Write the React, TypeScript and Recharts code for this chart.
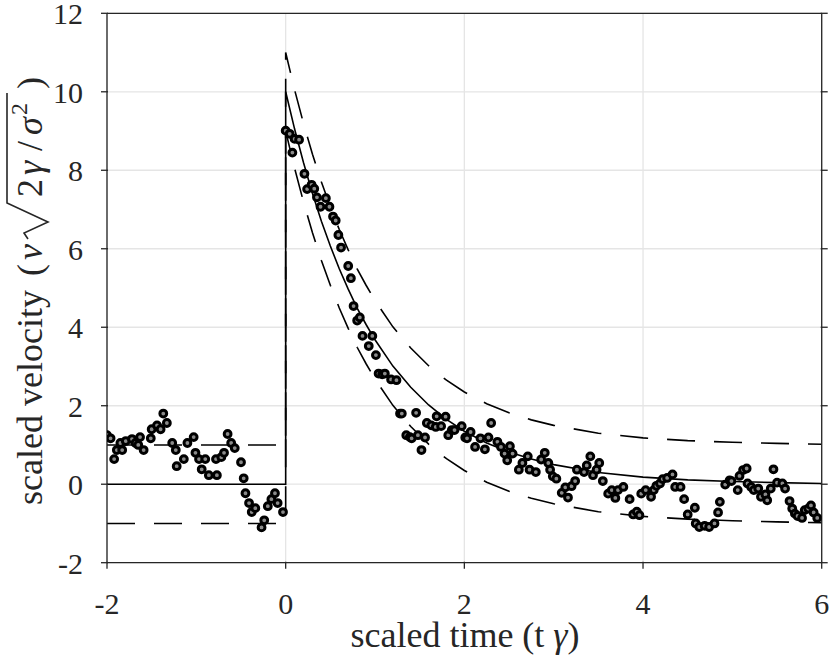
import React from 'react';
import {
  CartesianGrid,
  ComposedChart,
  Line,
  Scatter,
  XAxis,
  YAxis,
} from 'recharts';

const ink = '#262626';
const serif = '"Liberation Serif", "Times New Roman", serif';

const xTicks = [-2, 0, 2, 4, 6];
const yTicks = [-2, 0, 2, 4, 6, 8, 10, 12];

const beforeKick: [number, number][] = [
  [-2.0, 1.25], [-1.96, 1.17], [-1.92, 0.64], [-1.89, 0.87], [-1.85, 1.05],
  [-1.83, 0.87], [-1.79, 1.1], [-1.72, 1.15], [-1.68, 1.05], [-1.65, 1.0],
  [-1.63, 1.2], [-1.59, 0.87], [-1.51, 1.17], [-1.5, 1.4], [-1.44, 1.5],
  [-1.4, 1.4], [-1.37, 1.8], [-1.33, 1.56], [-1.27, 1.05], [-1.23, 0.87],
  [-1.22, 0.46], [-1.14, 0.64], [-1.1, 1.05], [-1.03, 1.2], [-1.01, 0.8],
  [-0.97, 0.64], [-0.94, 0.38], [-0.9, 0.64], [-0.86, 0.23], [-0.78, 0.64],
  [-0.77, 0.23], [-0.72, 0.69], [-0.69, 0.8], [-0.65, 1.28], [-0.61, 1.05],
  [-0.57, 0.92], [-0.5, 0.56], [-0.47, 0.15], [-0.45, -0.23], [-0.41, -0.48],
  [-0.38, -0.71], [-0.34, -0.61], [-0.27, -1.1], [-0.24, -0.92], [-0.2, -0.56],
  [-0.16, -0.38], [-0.12, -0.23], [-0.09, -0.48], [-0.03, -0.71],
];

const kickDecay: [number, number][] = [
  [0.0, 9.01], [0.045, 8.93], [0.075, 8.45], [0.1, 8.8], [0.15, 8.78],
  [0.21, 7.91], [0.24, 7.52], [0.29, 7.63], [0.32, 7.53], [0.35, 7.31],
  [0.39, 7.07], [0.45, 7.29], [0.49, 7.07], [0.53, 6.82], [0.56, 6.72],
  [0.59, 6.35], [0.62, 6.03], [0.7, 5.56], [0.73, 5.25], [0.76, 4.54],
  [0.8, 4.17], [0.83, 4.25], [0.86, 3.78], [0.93, 3.52], [0.97, 3.78],
  [1.01, 3.29], [1.04, 2.82], [1.08, 2.8], [1.11, 2.82], [1.18, 2.67],
  [1.24, 2.65], [1.28, 1.8], [1.3, 1.8], [1.35, 1.25], [1.39, 1.2],
  [1.41, 1.17], [1.46, 1.82], [1.48, 1.25], [1.52, 0.87], [1.56, 1.19],
  [1.58, 1.56], [1.63, 1.5], [1.68, 1.46], [1.69, 1.73], [1.74, 1.48],
  [1.79, 1.72], [1.82, 1.25], [1.86, 1.38], [1.89, 1.38], [1.97, 1.48],
];

const midDecay: [number, number][] = [
  [2.01, 1.19], [2.03, 1.17], [2.07, 1.33], [2.12, 0.95], [2.18, 1.17],
  [2.23, 0.89], [2.27, 1.19], [2.3, 1.56], [2.37, 1.08], [2.41, 0.95],
  [2.45, 0.78], [2.48, 0.61], [2.51, 0.97], [2.54, 0.78], [2.61, 0.37],
  [2.65, 0.54], [2.71, 0.71], [2.73, 0.37], [2.8, 0.31], [2.86, 0.63],
  [2.9, 0.8], [2.94, 0.54], [2.96, 0.37], [2.99, 0.2], [3.03, 0.14],
  [3.09, -0.22], [3.13, -0.08], [3.16, -0.34], [3.2, -0.05], [3.24, 0.08],
  [3.26, 0.37], [3.34, 0.31], [3.37, 0.48], [3.41, 0.71], [3.44, 0.23],
  [3.48, 0.37], [3.51, 0.54], [3.55, 0.08],
];

const tail: [number, number][] = [
  [3.61, -0.24], [3.65, -0.15], [3.69, -0.35], [3.72, -0.15], [3.78, -0.07],
  [3.85, -0.38], [3.89, -0.77], [3.93, -0.7], [3.96, -0.79], [3.98, -0.24],
  [4.03, -0.15], [4.09, -0.32], [4.12, -0.15], [4.15, -0.04], [4.19, 0.02],
  [4.22, 0.13], [4.27, 0.16], [4.33, 0.25], [4.36, -0.07], [4.42, -0.07],
  [4.46, -0.38], [4.5, -0.77], [4.58, -0.6], [4.59, -1.0], [4.63, -1.09],
  [4.69, -1.06], [4.74, -1.09], [4.8, -1.0], [4.84, -0.72], [4.86, -0.45],
  [4.92, -0.01], [4.97, 0.1], [4.99, 0.08], [5.06, -0.15], [5.08, 0.21],
  [5.12, 0.36], [5.16, 0.4], [5.17, 0.02], [5.21, -0.07], [5.24, -0.15],
  [5.29, -0.11], [5.32, -0.32], [5.37, -0.26], [5.39, -0.41], [5.43, -0.11],
  [5.46, 0.38], [5.5, 0.04], [5.56, 0.02], [5.59, -0.11], [5.64, -0.43],
  [5.67, -0.62], [5.7, -0.75], [5.73, -0.81], [5.78, -0.86], [5.81, -0.66],
  [5.85, -0.62], [5.88, -0.54], [5.91, -0.72], [5.95, -0.86],
];

// theory curves after the kick (t >= 0)
const curveTimes = [
  0, 0.1, 0.2, 0.3, 0.4, 0.5, 0.6, 0.7, 0.8, 0.9, 1.0, 1.2, 1.4, 1.6, 1.8,
  2.0, 2.25, 2.5, 2.75, 3.0, 3.5, 4.0, 4.5, 5.0, 5.5, 6.0,
];
const meanValues = [
  10, 9.05, 8.19, 7.41, 6.7, 6.07, 5.49, 4.97, 4.49, 4.07, 3.68, 3.01, 2.47,
  2.02, 1.65, 1.35, 1.05, 0.82, 0.64, 0.5, 0.3, 0.18, 0.11, 0.07, 0.04, 0.02,
];
const upperValues = [
  11, 10.05, 9.19, 8.41, 7.7, 7.07, 6.49, 5.97, 5.49, 5.07, 4.68, 4.01, 3.47,
  3.02, 2.65, 2.35, 2.05, 1.82, 1.64, 1.5, 1.3, 1.18, 1.11, 1.07, 1.04, 1.02,
];
const lowerValues = [
  9, 8.05, 7.19, 6.41, 5.7, 5.07, 4.49, 3.97, 3.49, 3.07, 2.68, 2.01, 1.47,
  1.02, 0.65, 0.35, 0.05, -0.18, -0.36, -0.5, -0.7, -0.82, -0.89, -0.93,
  -0.96, -0.98,
];
// levels before the kick (t < 0)
const meanBefore = 0;
const upperBefore = 1;
const lowerBefore = -1;

const buildCurve = (before: number, values: number[]) => [
  { x: -2, y: before },
  { x: 0, y: before },
  ...curveTimes.map((x, i) => ({ x, y: values[i] })),
];

const scatterData = [...beforeKick, ...kickDecay, ...midDecay, ...tail].map(
  ([x, y]) => ({ x, y })
);

const Marker = (props: any) => {
  const { cx, cy } = props;
  if (cx == null || cy == null) return null;
  return (
    <circle cx={cx} cy={cy} r={3.4} fill="#8a8a8a" stroke="#000" strokeWidth={3} />
  );
};

const BottomTick = ({ x, y, payload }: any) => (
  <g>
    <line x1={x} x2={x} y1={y} y2={y - 7} stroke={ink} strokeWidth={1.3} />
    <text x={x} y={y + 45} textAnchor="middle" fontSize={30} fontFamily={serif} fill={ink}>
      {payload.value}
    </text>
  </g>
);

const LeftTick = ({ x, y, payload }: any) => (
  <g>
    <line x1={x} x2={x + 7} y1={y} y2={y} stroke={ink} strokeWidth={1.3} />
    <text x={x - 18} y={y + 11} textAnchor="end" fontSize={30} fontFamily={serif} fill={ink}>
      {payload.value}
    </text>
  </g>
);

const TopTick = ({ x, y }: any) => (
  <line x1={x} x2={x} y1={y} y2={y + 7} stroke={ink} strokeWidth={1.3} />
);

const RightTick = ({ x, y }: any) => (
  <line x1={x} x2={x - 7} y1={y} y2={y} stroke={ink} strokeWidth={1.3} />
);

const XLabel = () => (
  <text x={465} y={647} textAnchor="middle" fontSize={36} fontFamily={serif} fill={ink}>
    scaled time (t <tspan fontStyle="italic">γ</tspan>)
  </text>
);

const YLabel = () => (
  <g transform="translate(42, 505) rotate(-90)" fontFamily={serif} fill={ink} fontSize={36}>
    <text x={0} y={0}>scaled velocity</text>
    <text x={229} y={0}>(</text>
    <text x={245} y={0} fontStyle="italic">v</text>
    <path
      d="M 266 -14 L 272 -18 L 283 6 L 302 -35 L 412 -35"
      fill="none"
      stroke={ink}
      strokeWidth={1.6}
    />
    <text x={308} y={0}>2</text>
    <text x={330} y={0} fontStyle="italic">γ</text>
    <text x={354} y={0}>/</text>
    <text x={370} y={0} fontStyle="italic">σ</text>
    <text x={390} y={-15} fontSize={24}>2</text>
    <text x={416} y={0}>)</text>
  </g>
);

const App = () => {
  return (
    <div style={{ position: 'absolute', left: 0, top: 0, width: 830, height: 667, background: '#fff' }}>
      <ComposedChart
        width={830}
        height={667}
        margin={{ top: 12.3, right: 7.3, bottom: 14.3, left: 17 }}
      >
        <CartesianGrid stroke="#e5e5e5" strokeWidth={1.3} />
        <XAxis
          dataKey="x"
          type="number"
          domain={[-2, 6]}
          ticks={xTicks}
          interval={0}
          allowDataOverflow
          height={90}
          tickLine={false}
          tickMargin={0}
          tick={<BottomTick />}
          axisLine={{ stroke: ink, strokeWidth: 1.3 }}
          label={{ content: () => <XLabel /> }}
        />
        <XAxis
          xAxisId="top"
          orientation="top"
          type="number"
          domain={[-2, 6]}
          ticks={xTicks}
          interval={0}
          allowDataOverflow
          height={1}
          tickLine={false}
          tickMargin={0}
          tick={<TopTick />}
          axisLine={{ stroke: ink, strokeWidth: 1.3 }}
        />
        <YAxis
          dataKey="y"
          type="number"
          domain={[-2, 12]}
          ticks={yTicks}
          interval={0}
          allowDataOverflow
          width={90}
          tickLine={false}
          tickMargin={0}
          tick={<LeftTick />}
          axisLine={{ stroke: ink, strokeWidth: 1.3 }}
          label={{ content: () => <YLabel /> }}
        />
        <YAxis
          yAxisId="right"
          orientation="right"
          type="number"
          domain={[-2, 12]}
          ticks={yTicks}
          interval={0}
          allowDataOverflow
          width={1}
          tickLine={false}
          tickMargin={0}
          tick={<RightTick />}
          axisLine={{ stroke: ink, strokeWidth: 1.3 }}
        />
        <Line
          data={buildCurve(upperBefore, upperValues)}
          dataKey="y"
          type="linear"
          stroke="#000"
          strokeWidth={1.6}
          strokeDasharray="28 19"
          dot={false}
          isAnimationActive={false}
        />
        <Line
          data={buildCurve(lowerBefore, lowerValues)}
          dataKey="y"
          type="linear"
          stroke="#000"
          strokeWidth={1.6}
          strokeDasharray="28 19"
          dot={false}
          isAnimationActive={false}
        />
        <Line
          data={buildCurve(meanBefore, meanValues)}
          dataKey="y"
          type="linear"
          stroke="#000"
          strokeWidth={1.6}
          dot={false}
          isAnimationActive={false}
        />
        <Scatter
          data={scatterData}
          dataKey="y"
          shape={<Marker />}
          isAnimationActive={false}
        />
      </ComposedChart>
    </div>
  );
};

export default App;
